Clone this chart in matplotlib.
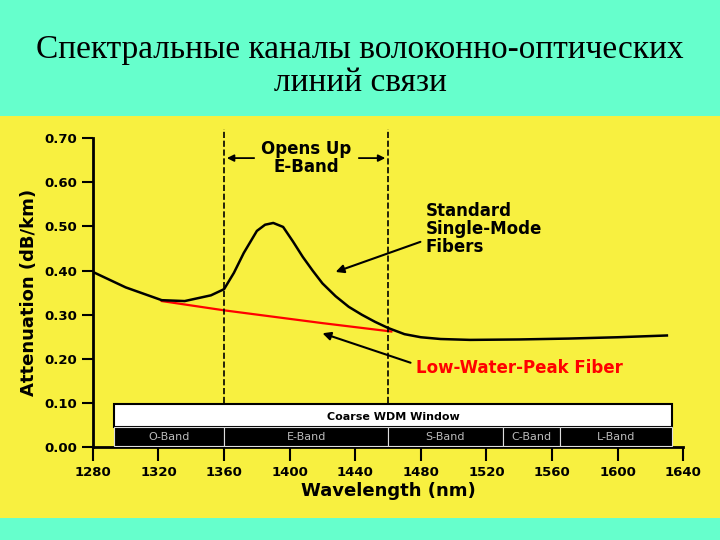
import matplotlib
matplotlib.use("Agg")
import matplotlib.pyplot as plt
from matplotlib.patches import Rectangle

# standard single-mode fiber attenuation
smf_wl = [1280, 1300, 1322, 1336, 1352, 1360, 1366, 1372, 1380, 1385, 1390, 1396, 1402, 1408,
          1414, 1420, 1428, 1436, 1444, 1452, 1460, 1470, 1480, 1492, 1510, 1540, 1570, 1600,
          1630]
smf_att = [0.397, 0.362, 0.333, 0.331, 0.344, 0.358, 0.395, 0.44, 0.49, 0.504, 0.508, 0.499,
           0.466, 0.431, 0.400, 0.371, 0.342, 0.318, 0.300, 0.284, 0.270, 0.256, 0.249, 0.245,
           0.243, 0.244, 0.246, 0.249, 0.253]
# low-water-peak fiber
lwp_wl = [1322, 1360, 1420, 1462]
lwp_att = [0.331, 0.310, 0.281, 0.262]

bands = ["O-Band", "E-Band", "S-Band", "C-Band", "L-Band"]
band_edges = [1293, 1360, 1460, 1530, 1565, 1633]
xticks = [1280, 1320, 1360, 1400, 1440, 1480, 1520, 1560, 1600, 1640]
yticks = [0.0, 0.1, 0.2, 0.3, 0.4, 0.5, 0.6, 0.7]

fig = plt.figure(figsize=(7.2, 5.4), dpi=100)
fig.patch.set_facecolor("#66FFCC")
fig.add_artist(Rectangle((0, 0.04), 1, 0.745, transform=fig.transFigure,
                         facecolor="#F8F040", edgecolor="none", zorder=0))
fig.text(0.5, 0.878, "Спектральные каналы волоконно-оптических\nлиний связи",
         ha="center", va="center", fontsize=24, family="Liberation Serif", linespacing=1.1)

ax = fig.add_axes([0.129, 0.172, 0.82, 0.572])
ax.set_facecolor("none")
ax.set_xlim(1280, 1640)
ax.set_ylim(0, 0.70)
for s in ["top", "right"]:
    ax.spines[s].set_visible(False)
for s in ["left", "bottom"]:
    ax.spines[s].set_linewidth(2)
ax.set_xticks(xticks)
ax.set_yticks(yticks)
ax.set_yticklabels([f"{v:.2f}" for v in yticks])
ax.tick_params(width=1.5, length=10, labelsize=9.5)
ax.tick_params(axis="y", direction="out", length=8)
for lab in ax.get_xticklabels() + ax.get_yticklabels():
    lab.set_fontweight("bold")
ax.set_xlabel("Wavelength (nm)", fontsize=13, fontweight="bold", labelpad=2)
ax.set_ylabel("Attenuation (dB/km)", fontsize=13, fontweight="bold", labelpad=4)

ax.plot(smf_wl, smf_att, color="black", lw=1.8, zorder=3)
ax.plot(lwp_wl, lwp_att, color="#FF0000", lw=1.6, zorder=2)

# E-band dashed markers
for x in [1360, 1460]:
    ax.plot([x, x], [0.1, 0.72], ls="--", color="black", lw=1.2, clip_on=False)
ax.annotate("", xy=(1360, 0.655), xytext=(1410, 0.655),
            arrowprops=dict(arrowstyle="-|>", color="black", lw=1.3))
ax.annotate("", xy=(1460, 0.655), xytext=(1410, 0.655),
            arrowprops=dict(arrowstyle="-|>", color="black", lw=1.3))
ax.text(1410, 0.655, "Opens Up\nE-Band", ha="center", va="center", fontsize=12,
        fontweight="bold", backgroundcolor="#F8F040", linespacing=1.0)

ax.annotate("Standard\nSingle-Mode\nFibers", xy=(1428, 0.397), xytext=(1483, 0.494),
            fontsize=12, fontweight="bold", va="center", linespacing=1.0,
            arrowprops=dict(arrowstyle="-|>", color="black", lw=1.5, shrinkB=0,
                            relpos=(0, 0.3)))
ax.annotate("Low-Water-Peak Fiber", xy=(1420, 0.258), xytext=(1477, 0.179),
            fontsize=12, fontweight="bold", color="#FF0000", va="center",
            arrowprops=dict(arrowstyle="-|>", color="black", lw=1.5, shrinkB=0,
                            relpos=(0, 0.7)))

# band bar
ax.add_patch(Rectangle((band_edges[0], 0.045), band_edges[-1] - band_edges[0], 0.052,
                       facecolor="white", edgecolor="black", lw=1.5, zorder=4))
ax.text(1463, 0.068, "Coarse WDM Window", ha="center", va="center", fontsize=8,
        fontweight="bold", zorder=5)
for i, name in enumerate(bands):
    x0, x1 = band_edges[i], band_edges[i + 1]
    ax.add_patch(Rectangle((x0, 0.003), x1 - x0, 0.042, facecolor="black",
                           edgecolor="#DDDDDD", lw=0.8, zorder=4))
    ax.text((x0 + x1) / 2, 0.024, name, ha="center", va="center", fontsize=8,
            color="#BBBBBB", zorder=5)

fig.savefig("out.png", dpi=100, facecolor=fig.get_facecolor())
